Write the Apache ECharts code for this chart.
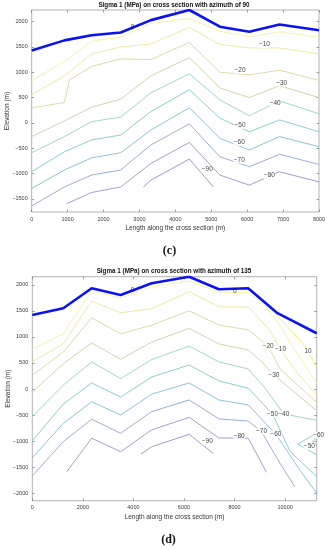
<!DOCTYPE html>
<html><head><meta charset="utf-8">
<script src="https://cdn.jsdelivr.net/npm/echarts@6/dist/echarts.min.js"></script>
<style>html,body{margin:0;padding:0;background:#fff}#c{width:329px;height:550px}</style>
</head><body><div id="c"></div><script>
// ================= Panel (c): azimuth 90 =================
const C_X = [0, 910, 1670, 2480, 3320, 4390, 5240, 6060, 6900, 8000];
const C_SURFACE = [1430, 1630, 1730, 1785, 2030, 2230, 1900, 1800, 1945, 1830];
const C_L0   = [830, 1215, 1615, 1690, 1965, 2065, 1810, 1700, 1800, 1690];
const C_LM10 = [555, 930, 1365, 1500, 1560, 1885, 1550, 1480, 1480, 1365];
const C_LM20 = [[0,300],[910,400],[1050,850],[1670,1115],[2480,1265],[3320,1250],[4390,1590],[5240,1000],[6060,950],[6900,1040],[8000,840]];
const C_LM30 = [-270, 40, 310, 470, 930, 1290, 690, 500, 735, 500];
const C_LM40 = [-590, -270, 25, 115, 595, 970, 455, 140, 435, 180];
const C_LM50 = [-965, -570, -335, -240, 225, 655, 95, -175, 60, -175];
const C_LM60 = [-1295, -930, -690, -590, -140, 300, -305, -535, -270, -470];
const C_LM70 = [-1640, -1265, -1030, -930, -435, -20, -670, -865, -620, -820];
const C_LM80 = [[975,-1595],[1670,-1375],[2480,-1265],[3320,-800],[4390,-385],[5240,-1030],[6060,-1230],[6900,-965],[8000,-1165]];
const C_LM90 = [[3110,-1265],[3320,-1130],[4390,-715],[5060,-1265]];
const C_LABEL_TEXT = ['0','−10','−20','−30','−40','−50','−60','−70','−80','−90'];
const C_LABEL_X = [2810, 6480, 5800, 6960, 6780, 5800, 5780, 5780, 6620, 4890];
const C_LABEL_Y = [1895, 1550, 1040, 790, 385, -45, -385, -735, -1040, -920];
const C_X_TICKS = [0,1000,2000,3000,4000,5000,6000,7000,8000];
const C_Y_TICKS = [-1500,-1000,-500,0,500,1000,1500,2000];

// ================= Panel (d): azimuth 135 =================
const D_SURFACE_X = [0, 1225, 2350, 3495, 4720, 6205, 7380, 8540, 9700, 11250];
const D_SURFACE   = [1420, 1550, 1935, 1805, 2030, 2155, 1915, 1935, 1455, 1070];
const D_L10  = [[9630,1440],[10710,870],[11250,430]];
const D_L0   = [[0,760],[1225,1060],[2350,1895],[3495,1745],[4720,1960],[6205,2075],[7380,1860],[8540,1850],[9080,1670],[9710,1285],[10345,785],[11250,110]];
const D_LM10 = [[0,520],[1225,870],[2350,1685],[3495,1465],[4720,1540],[6205,1870],[7380,1575],[8540,1575],[9395,1125],[9820,755],[10450,325],[11250,-115]];
const D_LM20 = [[0,265],[1225,710],[2350,1365],[3495,1060],[4720,1225],[6205,1500],[7380,1230],[8540,1135],[9330,825],[9790,390],[11250,-260]];
const D_LM30 = [[0,-60],[1225,485],[2350,885],[3495,570],[4720,900],[6205,1165],[7380,865],[8540,750],[9080,520],[9555,270],[11250,-420]];
const D_LM40 = [[0,-530],[1225,75],[2350,520],[3495,200],[4720,565],[6205,825],[7380,520],[8540,385],[9200,20],[9950,-480],[11250,-600]];
const D_LM50 = [[0,-995],[1225,-290],[2350,115],[3495,-155],[4720,230],[6205,460],[7380,155],[8540,15],[9505,-480],[10200,-1200],[11250,-1685]];
const D_LM50B = [[11250,-845],[10500,-1060],[11250,-1265]];
const D_LM60 = [[0,-1320],[1225,-660],[2350,-245],[3495,-500],[4720,-100],[6205,115],[7380,-210],[8540,-305],[9635,-870],[10580,-1555],[11250,-2000]];
const D_LM60B = [[11250,-940],[11080,-1010],[11250,-1080]];
const D_LM70 = [[0,-1670],[1225,-1010],[2350,-580],[3495,-850],[4720,-435],[6205,-210],[7380,-575],[8540,-615],[9070,-820],[9790,-1420],[10390,-1880]];
const D_LM80 = [[1360,-1590],[2350,-945],[3495,-1205],[4720,-785],[6205,-545],[7380,-940],[8540,-945],[9265,-1600]];
const D_LM90 = [[4300,-1250],[4720,-1110],[6205,-870],[7155,-1235]];
const D_LABEL_TEXT = ['0','0','−20','−10','10','−30','−50','−40','−70','−60','−80','−90','−60','−50'];
const D_LABEL_X = [3970, 8010, 9330, 9820, 10910, 9555, 9505, 9950, 9070, 9635, 8185, 6920, 11330, 10960];
const D_LABEL_Y = [1895, 1885, 825, 755, 725, 270, -480, -480, -820, -870, -915, -1000, -885, -1105];
const D_X_TICKS = [0,2000,4000,6000,8000,10000];
const D_Y_TICKS = [-2000,-1500,-1000,-500,0,500,1000,1500,2000];

// ================= styling =================
const FONT = '"Liberation Sans", Arial, sans-serif';
const LEVEL_COLORS = {
  '10':'#f2ee5a', '0':'#f4f1a6', '-10':'#ece79a', '-20':'#dcd59e', '-30':'#c4d4a4',
  '-40':'#96d2c2', '-50':'#7fcac8', '-60':'#80bcd6', '-70':'#8ea6d0', '-80':'#9197c8', '-90':'#958ec2'
};
const zip = (xs, ys) => xs.map((x, i) => [x, ys[i]]);
const minus = v => String(v).replace('-', '−');

const C_CONTOURS = [
  [0, zip(C_X, C_L0)], [-10, zip(C_X, C_LM10)], [-20, C_LM20], [-30, zip(C_X, C_LM30)],
  [-40, zip(C_X, C_LM40)], [-50, zip(C_X, C_LM50)], [-60, zip(C_X, C_LM60)],
  [-70, zip(C_X, C_LM70)], [-80, C_LM80], [-90, C_LM90]
];
const D_CONTOURS = [
  [10, D_L10], [0, D_L0], [-10, D_LM10], [-20, D_LM20], [-30, D_LM30], [-40, D_LM40],
  [-50, D_LM50], [-50, D_LM50B], [-60, D_LM60], [-60, D_LM60B], [-70, D_LM70], [-80, D_LM80], [-90, D_LM90]
];

const series = [];
function addPanel(contours, surface, labelsX, labelsY, labelsT, idx) {
  contours.forEach(([lvl, data]) => series.push({
    type: 'line', xAxisIndex: idx * 2, yAxisIndex: idx * 2, data, symbol: 'none', silent: true,
    animation: false, clip: false, lineStyle: { color: LEVEL_COLORS[String(lvl)], width: 0.9 }, z: 2
  }));
  series.push({
    type: 'line', xAxisIndex: idx * 2, yAxisIndex: idx * 2, data: surface, symbol: 'none', silent: true,
    animation: false, lineStyle: { color: '#0a14f0', width: 2.6 }, z: 4
  });
  series.push({
    type: 'scatter', xAxisIndex: idx * 2, yAxisIndex: idx * 2, symbolSize: 1, silent: true, animation: false,
    clip: false, z: 6, itemStyle: { color: 'rgba(0,0,0,0)' },
    label: { show: true, position: 'inside', formatter: '{b}', fontSize: 6.5, fontFamily: FONT, color: '#111',
             backgroundColor: '#fff', padding: [0, 0.5] },
    data: labelsX.map((x, i) => ({
      name: labelsT[i], value: [x, labelsY[i]],
      label: labelsT[i] === '0' ? { backgroundColor: 'transparent' } : {}
    }))
  });
}
addPanel(C_CONTOURS, zip(C_X, C_SURFACE), C_LABEL_X, C_LABEL_Y, C_LABEL_TEXT, 0);
addPanel(D_CONTOURS, zip(D_SURFACE_X, D_SURFACE), D_LABEL_X, D_LABEL_Y, D_LABEL_TEXT, 1);

const tickStyle = { show: true, inside: true, length: 2.5, lineStyle: { color: '#666', width: 0.6 } };
const labelStyle = { fontSize: 5.5, fontFamily: FONT, color: '#3a3a3a', margin: 4, formatter: minus };
const nameStyle = { fontSize: 6.5, fontFamily: FONT, color: '#333' };
const noLine = { show: false, onZero: false };

function xAxes(grid, max, ticks) {
  return [
    { type: 'value', gridIndex: grid, position: 'bottom', min: 0, max,
      axisLine: noLine, splitLine: { show: false },
      axisTick: Object.assign({ customValues: ticks }, tickStyle),
      axisLabel: Object.assign({ customValues: ticks }, labelStyle),
      name: 'Length along the cross section (m)', nameLocation: 'middle', nameGap: 13, nameMoveOverlap: false, nameTextStyle: nameStyle },
    { type: 'value', gridIndex: grid, position: 'top', min: 0, max,
      axisLine: noLine, splitLine: { show: false },
      axisTick: Object.assign({ customValues: ticks }, tickStyle), axisLabel: { show: false } }
  ];
}
function yAxes(grid, min, max, ticks) {
  return [
    { type: 'value', gridIndex: grid, position: 'left', min, max,
      axisLine: noLine, splitLine: { show: false },
      axisTick: Object.assign({ customValues: ticks }, tickStyle),
      axisLabel: Object.assign({ customValues: ticks }, labelStyle),
      name: 'Elevation (m)', nameLocation: 'middle', nameGap: 21, nameMoveOverlap: false, nameTextStyle: nameStyle },
    { type: 'value', gridIndex: grid, position: 'right', min, max,
      axisLine: noLine, splitLine: { show: false },
      axisTick: Object.assign({ customValues: ticks }, tickStyle), axisLabel: { show: false } }
  ];
}

const chart = echarts.init(document.getElementById('c'), null, { renderer: 'canvas', width: 329, height: 550 });
chart.setOption({
  animation: false,
  backgroundColor: '#fff',
  grid: [
    { left: 31.7, top: 10, width: 287.3, height: 202, show: true, borderColor: '#808080', borderWidth: 0.6, containLabel: false, outerBoundsMode: 'none' },
    { left: 32.3, top: 276.7, width: 284.4, height: 224, show: true, borderColor: '#808080', borderWidth: 0.6, containLabel: false, outerBoundsMode: 'none' }
  ],
  xAxis: [...xAxes(0, 8000, C_X_TICKS), ...xAxes(1, 11250, D_X_TICKS)],
  yAxis: [...yAxes(0, -1760, 2230, C_Y_TICKS), ...yAxes(1, -2145, 2156, D_Y_TICKS)],
  series,
  graphic: [
    { type: 'text', x: 174, y: 5.5, style: { text: 'Sigma 1 (MPa) on cross section with azimuth of 90', font: 'bold 6.3px ' + FONT, fill: '#111', textAlign: 'center', textVerticalAlign: 'middle', align: 'center', verticalAlign: 'middle' } },
    { type: 'text', x: 174, y: 271.5, style: { text: 'Sigma 1 (MPa) on cross section with azimuth of 135', font: 'bold 6.3px ' + FONT, fill: '#111', textAlign: 'center', textVerticalAlign: 'middle', align: 'center', verticalAlign: 'middle' } },
    { type: 'text', x: 169.5, y: 251, style: { text: '(c)', font: 'bold 12px "Liberation Serif", serif', fill: '#111', textAlign: 'center', textVerticalAlign: 'middle', align: 'center', verticalAlign: 'middle' } },
    { type: 'text', x: 168.5, y: 540, style: { text: '(d)', font: 'bold 12px "Liberation Serif", serif', fill: '#111', textAlign: 'center', textVerticalAlign: 'middle', align: 'center', verticalAlign: 'middle' } }
  ]
});
</script></body></html>
